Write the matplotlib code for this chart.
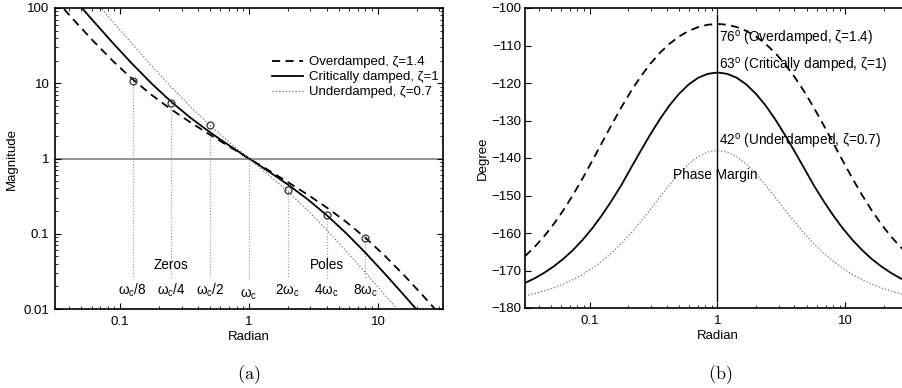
import matplotlib
matplotlib.use('Agg')
import matplotlib.pyplot as plt
from matplotlib.ticker import LogLocator, NullFormatter

plt.rcParams['font.family'] = ['Liberation Sans', 'DejaVu Sans']
plt.rcParams['font.size'] = 9.5
plt.rcParams['mathtext.fontset'] = 'custom'
plt.rcParams['mathtext.rm'] = 'Liberation Sans'
plt.rcParams['mathtext.it'] = 'Liberation Sans:italic'

# magnitude curves (half-octave steps)
omega_mag = [0.03125, 0.04419, 0.0625, 0.08839, 0.125, 0.17678, 0.25, 0.35355, 0.5, 0.70711, 1,
             1.41421, 2, 2.82843, 4, 5.65685, 8, 11.3137, 16, 22.6274, 32]
mag_over = [131.9, 67.9, 35.78, 19.6, 11.31, 6.93, 4.47, 3.0, 2.058, 1.431, 1.0,
            0.699, 0.486, 0.3337, 0.2237, 0.1444, 0.0884, 0.05103, 0.02795, 0.01473, 0.00758]
mag_crit = [258, 130, 66.0, 33.9, 17.88, 9.79, 5.646, 3.45, 2.219, 1.477, 1.0,
            0.677, 0.4507, 0.2898, 0.1771, 0.1022, 0.05593, 0.02947, 0.01516, 0.00769, 0.003876]
mag_under = [513, 257, 128.9, 64.9, 32.92, 16.9, 8.875, 4.824, 2.744, 1.633, 1.0,
             0.6124, 0.3644, 0.2073, 0.1127, 0.05916, 0.03038, 0.0154, 0.007756, 0.0039, 0.00195]

# zero / pole markers and the dotted drop lines
mark_omega = [0.125, 0.25, 0.5, 2, 4, 8]
mark_mag = [10.8, 5.5, 2.8, 0.38, 0.18, 0.087]
vline_omega = [0.125, 0.25, 0.5, 1, 2, 4, 8]
vline_top = [10.8, 5.5, 2.8, 1, 0.38, 0.18, 0.087]
vline_bottom = 0.026
freq_labels = [r'$\mathrm{ω_c/8}$', r'$\mathrm{ω_c/4}$', r'$\mathrm{ω_c/2}$', r'$\mathrm{ω_c}$',
               r'$\mathrm{2ω_c}$', r'$\mathrm{4ω_c}$', r'$\mathrm{8ω_c}$']

# phase curves (quarter-octave steps)
omega_ph = [0.03125, 0.03716, 0.04419, 0.05256, 0.0625, 0.07433, 0.08839, 0.10511, 0.125, 0.14865,
            0.17678, 0.21022, 0.25, 0.2973, 0.35355, 0.42045, 0.5, 0.5946, 0.70711, 0.8409, 1,
            1.18921, 1.41421, 1.68179, 2, 2.37841, 2.82843, 3.36359, 4, 4.75683, 5.65685,
            6.72717, 8, 9.51366, 11.3137, 13.4543, 16, 19.0273, 22.6274, 26.9087, 32]
phase_over = [-166.19, -163.71, -160.85, -157.57, -153.88, -149.80, -145.37, -140.69, -135.90, -131.12,
              -126.53, -122.24, -118.36, -114.93, -112.00, -109.57, -107.61, -106.12, -105.08, -104.46,
              -104.25,
              -104.46, -105.08, -106.12, -107.61, -109.57, -112.00, -114.93, -118.36, -122.24, -126.53,
              -131.12, -135.90, -140.69, -145.37, -149.80, -153.88, -157.57, -160.85, -163.71, -166.19]
phase_crit = [-173.32, -172.08, -170.61, -168.88, -166.86, -164.51, -161.80, -158.70, -155.23, -151.39,
              -147.27, -142.7, -138.2, -133.8, -129.7, -126.0, -122.9, -120.4, -118.6, -117.55,
              -117.2,
              -117.55, -118.6, -120.4, -122.9, -126.0, -129.7, -133.8, -138.2, -142.7, -147.27,
              -151.39, -155.23, -158.70, -161.80, -164.51, -166.86, -168.88, -170.61, -172.08, -173.32]
phase_under = [-176.78, -176.17, -175.45, -174.60, -173.60, -172.41, -171.02, -169.39, -167.49, -165.31,
               -162.83, -160.06, -157.02, -153.79, -150.47, -147.22, -144.21, -141.63, -139.65, -138.40,
               -137.98,
               -138.40, -139.65, -141.63, -144.21, -147.22, -150.47, -153.79, -157.02, -160.06, -162.83,
               -165.31, -167.49, -169.39, -171.02, -172.41, -173.60, -174.60, -175.45, -176.17, -176.78]

labels = ['Overdamped, ζ=1.4', 'Critically damped, ζ=1', 'Underdamped, ζ=0.7']
pm_texts = ['76$^{\\mathrm{o}}$ (Overdamped, ζ=1.4)',
            '63$^{\\mathrm{o}}$ (Critically damped, ζ=1)',
            '42$^{\\mathrm{o}}$ (Underdamped, ζ=0.7)']
pm_y = [-108, -115.2, -135.7]

fig = plt.figure(figsize=(9.02, 3.88), dpi=100)
ax1 = fig.add_axes([55 / 902, 79 / 388, 388 / 902, 301 / 388])
ax2 = fig.add_axes([525 / 902, 80 / 388, 385 / 902, 300 / 388])

# ---- (a) magnitude ----
ax1.axhline(1, color='0.5', lw=1.2, zorder=1)
for w, top in zip(vline_omega, vline_top):
    ax1.plot([w, w], [top, vline_bottom], color='0.6', ls=':', lw=0.8, zorder=1)
ax1.plot(omega_mag, mag_over, color='k', ls='--', dashes=(4.5, 3), lw=1.3, label=labels[0])
ax1.plot(omega_mag, mag_crit, color='k', ls='-', lw=1.3, label=labels[1])
ax1.plot(omega_mag, mag_under, color='0.45', ls=':', lw=0.9, label=labels[2])
ax1.plot(mark_omega, mark_mag, 'o', mfc='none', mec='0.2', ms=5, mew=0.9)
ax1.set_xscale('log')
ax1.set_yscale('log')
ax1.set_xlim(1 / 32, 32)
ax1.set_ylim(0.01, 100)
ax1.set_xticks([0.1, 1, 10])
ax1.set_xticklabels(['0.1', '1', '10'])
ax1.set_yticks([0.01, 0.1, 1, 10, 100])
ax1.set_yticklabels(['0.01', '0.1', '1', '10', '100'])
for a in (ax1.xaxis, ax1.yaxis):
    a.set_minor_locator(LogLocator(base=10, subs=range(2, 10)))
    a.set_minor_formatter(NullFormatter())

for w, t in zip(vline_omega, freq_labels):
    y = 0.0155 if w == 1 else 0.0175
    ax1.text(w, y, t, ha='center', va='center', fontsize=9.8)
ax1.text(0.25, 0.039, 'Zeros', ha='center', va='center', fontsize=9.8)
ax1.text(4, 0.039, 'Poles', ha='center', va='center', fontsize=9.8)

ax1.legend(loc='upper right', bbox_to_anchor=(0.99, 0.84), frameon=False, fontsize=9.5,
           handlelength=2.3, handletextpad=0.5, labelspacing=0.2, borderaxespad=0, borderpad=0)
ax1.set_xlabel('Radian', labelpad=2)
fig.text(12 / 902, 1 - 159 / 388, 'Magnitude', rotation=90, ha='center', va='center', fontsize=9.5)
fig.text(249 / 902, 1 - 375 / 388, r'$\mathrm{(a)}$', ha='center', va='center', fontsize=13,
         math_fontfamily='cm')

# ---- (b) phase ----
ax2.plot([1, 1], [-178, -101.8], color='k', lw=1)
ax2.plot(omega_ph, phase_over, color='k', ls='--', dashes=(4.5, 3), lw=1.3)
ax2.plot(omega_ph, phase_crit, color='k', ls='-', lw=1.3)
ax2.plot(omega_ph, phase_under, color='0.45', ls=':', lw=0.9)
ax2.set_xscale('log')
ax2.set_xlim(1 / 32, 32)
ax2.set_ylim(-180, -100)
ax2.set_xticks([0.1, 1, 10])
ax2.set_xticklabels(['0.1', '1', '10'])
ax2.set_yticks(range(-180, -99, 10))
ax2.xaxis.set_minor_locator(LogLocator(base=10, subs=range(2, 10)))
ax2.xaxis.set_minor_formatter(NullFormatter())
for t, y in zip(pm_texts, pm_y):
    ax2.text(1.036, y, t, ha='left', va='center', fontsize=9.8)
ax2.text(0.96, -144.5, 'Phase Margin', ha='center', va='center', fontsize=9.8)
ax2.set_xlabel('Radian', labelpad=2)
fig.text(483 / 902, 1 - 158 / 388, 'Degree', rotation=90, ha='center', va='center', fontsize=9.5)
fig.text(720 / 902, 1 - 375 / 388, r'$\mathrm{(b)}$', ha='center', va='center', fontsize=13,
         math_fontfamily='cm')

for ax in (ax1, ax2):
    ax.tick_params(which='both', direction='in', top=True, right=True)
    ax.tick_params(which='major', length=4, width=0.8)
    ax.tick_params(which='minor', length=2, width=0.6)
    ax.tick_params(axis='x', pad=5)
    for s in ax.spines.values():
        s.set_linewidth(1.2)
ax1.tick_params(axis='y', pad=4)
ax2.tick_params(axis='y', pad=2.5)

fig.savefig('out.png', dpi=100)
